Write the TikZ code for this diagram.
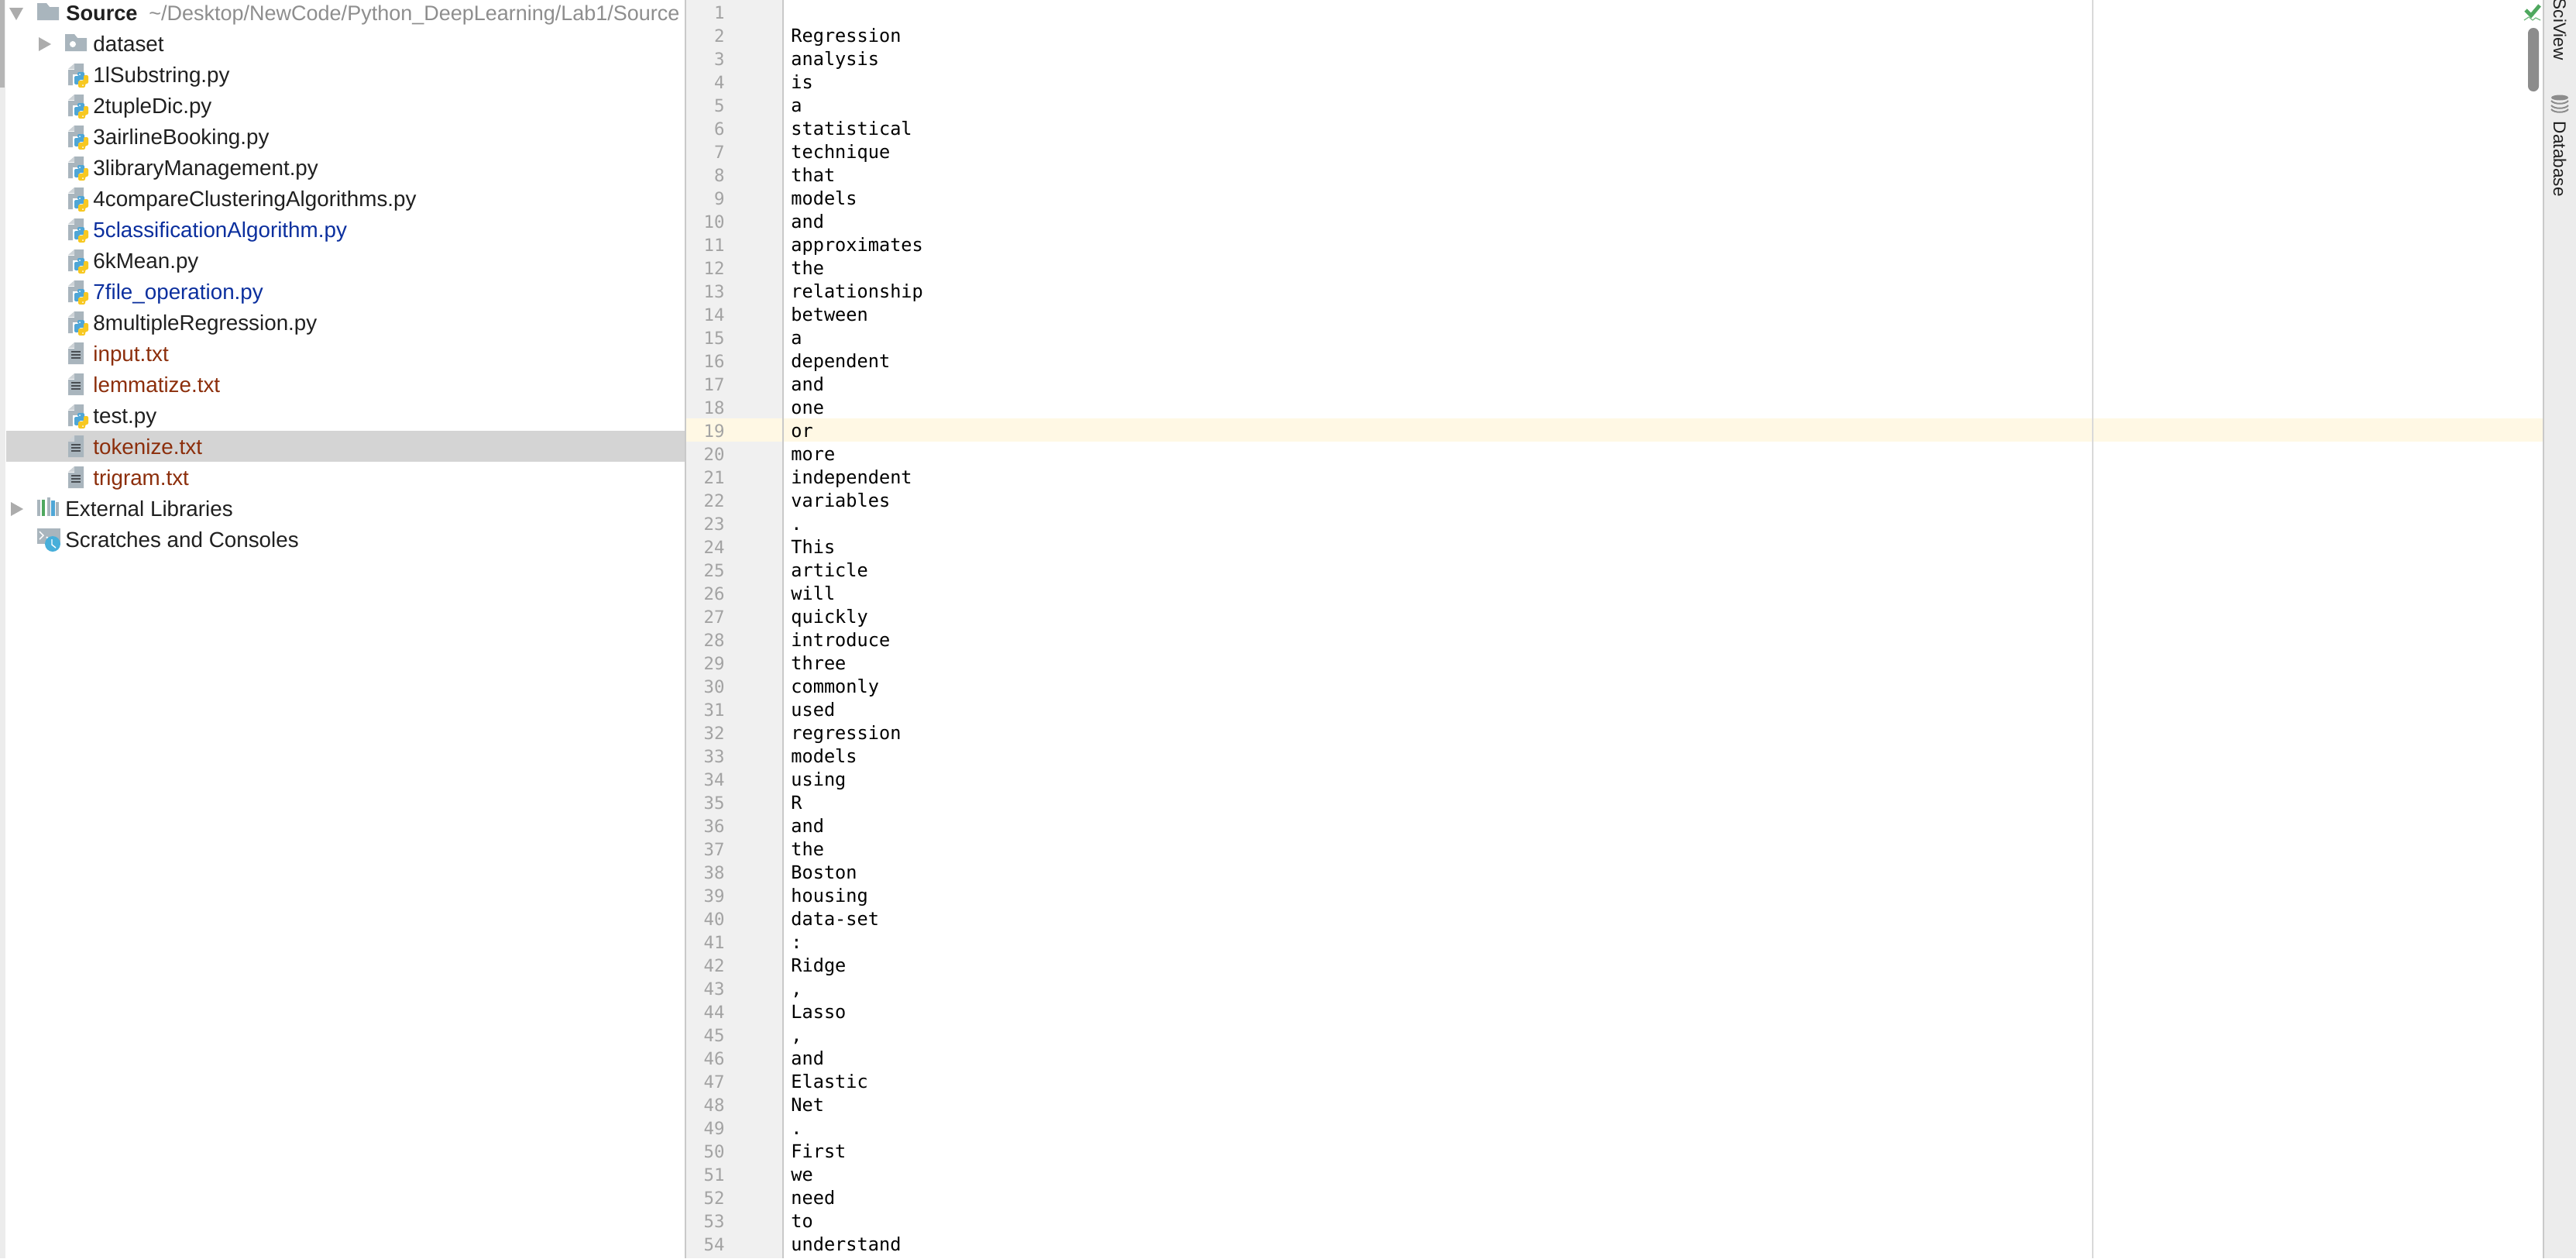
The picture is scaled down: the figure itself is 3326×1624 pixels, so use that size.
\documentclass[tikz,border=0pt]{standalone}
\usepackage{fontspec}
\setmainfont{Liberation Sans}
\setmonofont{DejaVu Sans Mono}
\usetikzlibrary{positioning, calc}
\definecolor{iconblue}{HTML}{A9B5BD}
\definecolor{iconlight}{HTML}{CDD3D7}
\definecolor{icondark}{HTML}{4A4F54}
\definecolor{pyblue}{HTML}{4FA6D6}
\definecolor{pyyellow}{HTML}{F7C821}
\definecolor{filedark}{HTML}{202020}
\definecolor{fileblue}{HTML}{0B2F9E}
\definecolor{filebrown}{HTML}{8C2E0B}
\definecolor{pathgrey}{HTML}{8E8E8E}
\definecolor{numgrey}{HTML}{A3A3A3}
\definecolor{guttergrey}{HTML}{F0F0F0}
\definecolor{linegrey}{HTML}{C9C9C9}
\definecolor{selgrey}{HTML}{D4D4D4}
\definecolor{caretrow}{HTML}{FFF8E4}
\definecolor{stripgrey}{HTML}{ECECEC}
\definecolor{okgreen}{HTML}{4FA85F}
\definecolor{thumbgrey}{HTML}{8C8C8C}
\tikzset{
  treelabel/.style={anchor=base west, inner sep=0pt, font=\fontsize{13.9}{16}\selectfont},
  linenum/.style={anchor=base east, inner sep=0pt, text=numgrey, font=\ttfamily\fontsize{11.2}{13}\selectfont},
  token/.style={anchor=base west, inner sep=0pt, text=black, font=\ttfamily\fontsize{11.8}{14}\selectfont},
  sidetab/.style={anchor=base east, inner sep=0pt, rotate=-90, text=filedark, font=\fontsize{11.3}{14}\selectfont},
  arrowicon/.style={fill=numgrey!90!white, draw=none},
  iconfill/.style={fill=iconblue, draw=none}
}
\newcommand{\pageicon}[1]{
  \fill[iconblue] (96,#1-15) -- (108,#1-15) -- (108,#1+13) -- (88,#1+13) -- (88,#1-7) -- (96,#1-7) -- cycle;
  \fill[iconlight] (88,#1-8) -- (96,#1-15) -- (96,#1-8) -- cycle;
}
\newcommand{\pyicon}[1]{
  \pageicon{#1}
  \fill[white] (94,#1-1) rectangle (116,#1+17);
  \fill[pyblue, rounded corners=1] (100,#1-4) -- (109,#1-4) -- (109,#1+6) -- (102,#1+6) -- (102,#1+12) -- (96,#1+12) -- (96,#1+1) -- (105,#1+1) -- (100,#1+1) -- cycle;
  \fill[pyyellow, rounded corners=1] (110,#1+16) -- (101,#1+16) -- (101,#1+7) -- (108,#1+7) -- (108,#1) -- (114,#1) -- (114,#1+11) -- (110,#1+11) -- cycle;
  \fill[white] (103,#1-1) circle (1) (107,#1+13) circle (1);
}
\newcommand{\txticon}[1]{
  \pageicon{#1}
  \foreach \ly in {-3,1,5}
    \draw[icondark, line width=0.8] (92,#1+\ly) -- (104,#1+\ly);
}
\begin{document}
\begin{tikzpicture}[x=0.5pt, y=-0.5pt]
\useasboundingbox (0,0) rectangle (3326,1624);
\fill[white] (0,0) rectangle (3326,1624);

\fill[stripgrey] (0,0) rectangle (7,1624);
\fill[numgrey!80!white] (0,0) rectangle (6,113);
\fill[selgrey] (8,556) rectangle (885,596);
\fill[guttergrey] (885,0) rectangle (1011,1624);
\fill[caretrow] (886,540) rectangle (1010,570);
\fill[caretrow] (1012,540) rectangle (3284,570);
\draw[linegrey, line width=0.9] (885,0) -- (885,1624);
\draw[linegrey, line width=0.9] (1011,0) -- (1011,1624);
\draw[linegrey!70!white, line width=0.7] (2702,0) -- (2702,1624);
\fill[stripgrey] (3284,0) rectangle (3326,1624);
\draw[linegrey, line width=0.9] (3284,0) -- (3284,1624);

\fill[arrowicon] (12,10) -- (30,10) -- (21,26) -- cycle;
\fill[iconfill] (48,26) -- (48,4) -- (60,4) -- (64,9) -- (76,9) -- (76,26) -- cycle;
\node[treelabel, font=\bfseries\fontsize{13.6}{16}\selectfont, text=filedark] (source) at (85,26) {Source};
\node[treelabel, text=pathgrey, font=\fontsize{13.5}{16}\selectfont] (sourcepath) at (192,26) {\textasciitilde/Desktop/NewCode/Python\_DeepLearning/Lab1/Source};

\fill[arrowicon] (50,48) -- (66,57) -- (50,66) -- cycle;
\fill[iconfill] (84,66) -- (84,44) -- (96,44) -- (100,49) -- (112,49) -- (112,66) -- cycle;
\fill[white] (94,57) circle (4);
\node[treelabel, text=filedark] (dataset) at (120,66) {dataset};

\foreach \fname/\fcol/\ficon [count=\rownum from 2] in {
  1lSubstring.py/filedark/\pyicon, 2tupleDic.py/filedark/\pyicon, 3airlineBooking.py/filedark/\pyicon,
  3libraryManagement.py/filedark/\pyicon, 4compareClusteringAlgorithms.py/filedark/\pyicon,
  5classificationAlgorithm.py/fileblue/\pyicon, 6kMean.py/filedark/\pyicon,
  7file\_operation.py/fileblue/\pyicon, 8multipleRegression.py/filedark/\pyicon,
  input.txt/filebrown/\txticon, lemmatize.txt/filebrown/\txticon, test.py/filedark/\pyicon,
  tokenize.txt/filebrown/\txticon, trigram.txt/filebrown/\txticon}
{
  \pgfmathsetmacro{\rowy}{17+40*\rownum}
  \ficon{\rowy}
  \node[treelabel, text=\fcol] (file\rownum) at (120,\rowy+9) {\fname};
}

\fill[arrowicon] (14,648) -- (30,657) -- (14,666) -- cycle;
\fill[iconfill] (48,645) rectangle (52,666);
\fill[okgreen] (54,645) rectangle (58,666);
\fill[iconfill] (61,642) rectangle (65,666);
\fill[pyblue] (66,646) rectangle (71,666);
\fill[iconfill] (72,648) rectangle (76,666);
\node[treelabel, text=filedark] (extlibs) at (84,666) {External Libraries};

\fill[iconfill] (48,682) rectangle (78,702);
\draw[white, line width=0.7] (51,686) -- (56,691) -- (51,696);
\draw[white, line width=1] (60,693) -- (70,703);
\fill[pyblue!90!cyan] (68,702) circle (10);
\draw[white, line width=0.7] (67,696) -- (67,703) -- (72,707);
\node[treelabel, text=filedark] (scratches) at (84,706) {Scratches and Consoles};

\foreach \n in {1,...,54}
{
  \pgfmathsetmacro{\numy}{24+30*(\n-1)}
  \node[linenum] (num\n) at (936,\numy) {\n};
}

\foreach \word [count=\n from 2] in {Regression, analysis, is, a, statistical, technique, that, models, and,
  approximates, the, relationship, between, a, dependent, and, one, or, more, independent, variables, .,
  This, article, will, quickly, introduce, three, commonly, used, regression, models, using, R, and, the,
  Boston, housing, data-set, :, Ridge, {,}, Lasso, {,}, and, Elastic, Net, ., First, we, need, to, understand}
{
  \pgfmathsetmacro{\numy}{24+30*(\n-1)}
  \node[token] (word\n) at (1021,\numy) {\word};
}

\draw[okgreen, line width=2.4] (3261,13) -- (3268,20) -- (3279,7);
\draw[okgreen!80!white, line width=0.6] (3259,26) -- (3265,22) -- (3270,26) -- (3274,23) -- (3280,26);
\fill[thumbgrey, rounded corners=3.4] (3264,36) rectangle (3278,118);

\node[sidetab] (sciview) at (3297,78) {SciView};
\fill[thumbgrey] (3305,126) ellipse (11 and 3.5);
\foreach \dy in {130,136,141}
  \draw[thumbgrey, line width=1] (3294,\dy) .. controls (3298,\dy+5) and (3312,\dy+5) .. (3316,\dy);
\node[sidetab] (database) at (3297,254) {Database};
\end{tikzpicture}
\end{document}
